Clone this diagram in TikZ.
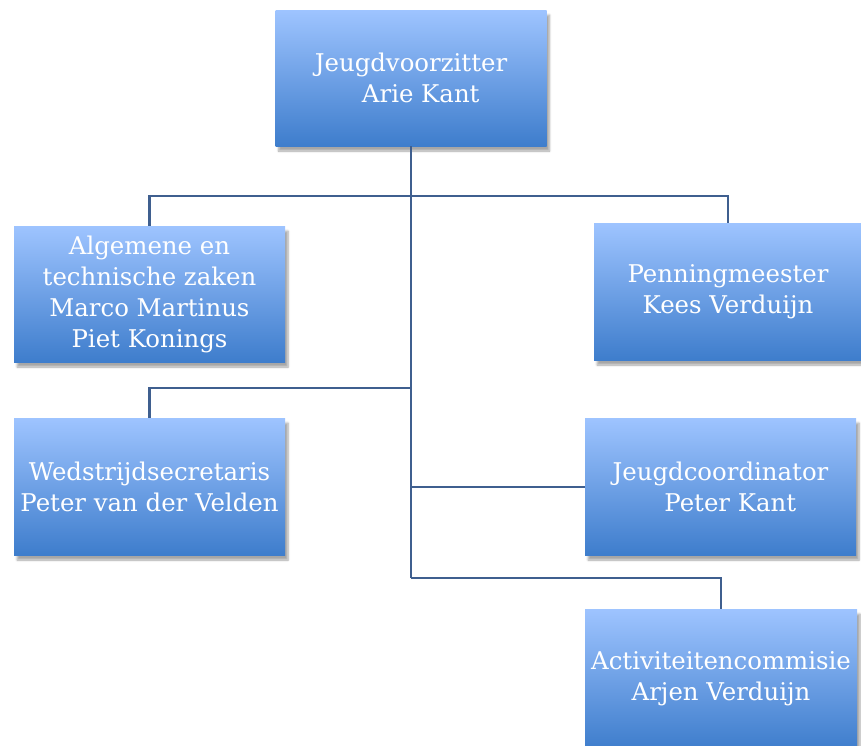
\documentclass[tikz,border=0pt]{standalone}
\usepackage{fontspec}
\setmainfont{DejaVu Serif}
\usetikzlibrary{shadows.blur}
\definecolor{boxtop}{HTML}{9EC4FF}
\definecolor{boxbot}{HTML}{3E7DCC}
\definecolor{linecol}{HTML}{3F5F8F}
\tikzset{
  orgbox/.style={rectangle, minimum width=271pt, minimum height=136pt, inner sep=0pt,
    top color=boxtop, bottom color=boxbot, align=center, text=white,
    font=\fontsize{24.4}{31}\selectfont,
    blur shadow={shadow xshift=3pt, shadow yshift=-5pt, shadow blur steps=6, shadow opacity=35}},
  conn/.style={draw=linecol, line width=2.4pt}
}
\begin{document}
\begin{tikzpicture}[x=1pt,y=-1pt]
\useasboundingbox (0,0) rectangle (861,745);
\node[orgbox] (top) at (411,78) {Jeugdvoorzitter\\\hspace*{0.8em}Arie Kant};
\node[orgbox] (alg) at (149.5,294) {Algemene en\\technische zaken\\Marco Martinus\\Piet Konings};
\node[orgbox, minimum width=268pt, minimum height=137pt] (pen) at (728,291.5) {Penningmeester\\Kees Verduijn};
\node[orgbox, minimum height=137pt] (wed) at (149.5,486.5) {Wedstrijdsecretaris\\Peter van der Velden};
\node[orgbox, minimum height=137pt] (jc) at (720.5,486.5) {Jeugdcoordinator\\\hspace*{0.8em}Peter Kant};
\node[orgbox, minimum width=272pt, minimum height=140pt] (act) at (721,679) {Activiteitencommisie\\Arjen Verduijn};
\coordinate (t1) at (411,196);
\coordinate (t2) at (411,388);
\coordinate (t3) at (411,487);
\coordinate (t4) at (411,578);
\draw[conn] (top.south) -- (t4);
\draw[conn] (alg.north) |- (t1) -| (pen.north);
\draw[conn] (wed.north) |- (t2);
\draw[conn] (t3) -- (jc.west |- t3);
\draw[conn] (t4) -| (act.north);
\end{tikzpicture}
\end{document}
